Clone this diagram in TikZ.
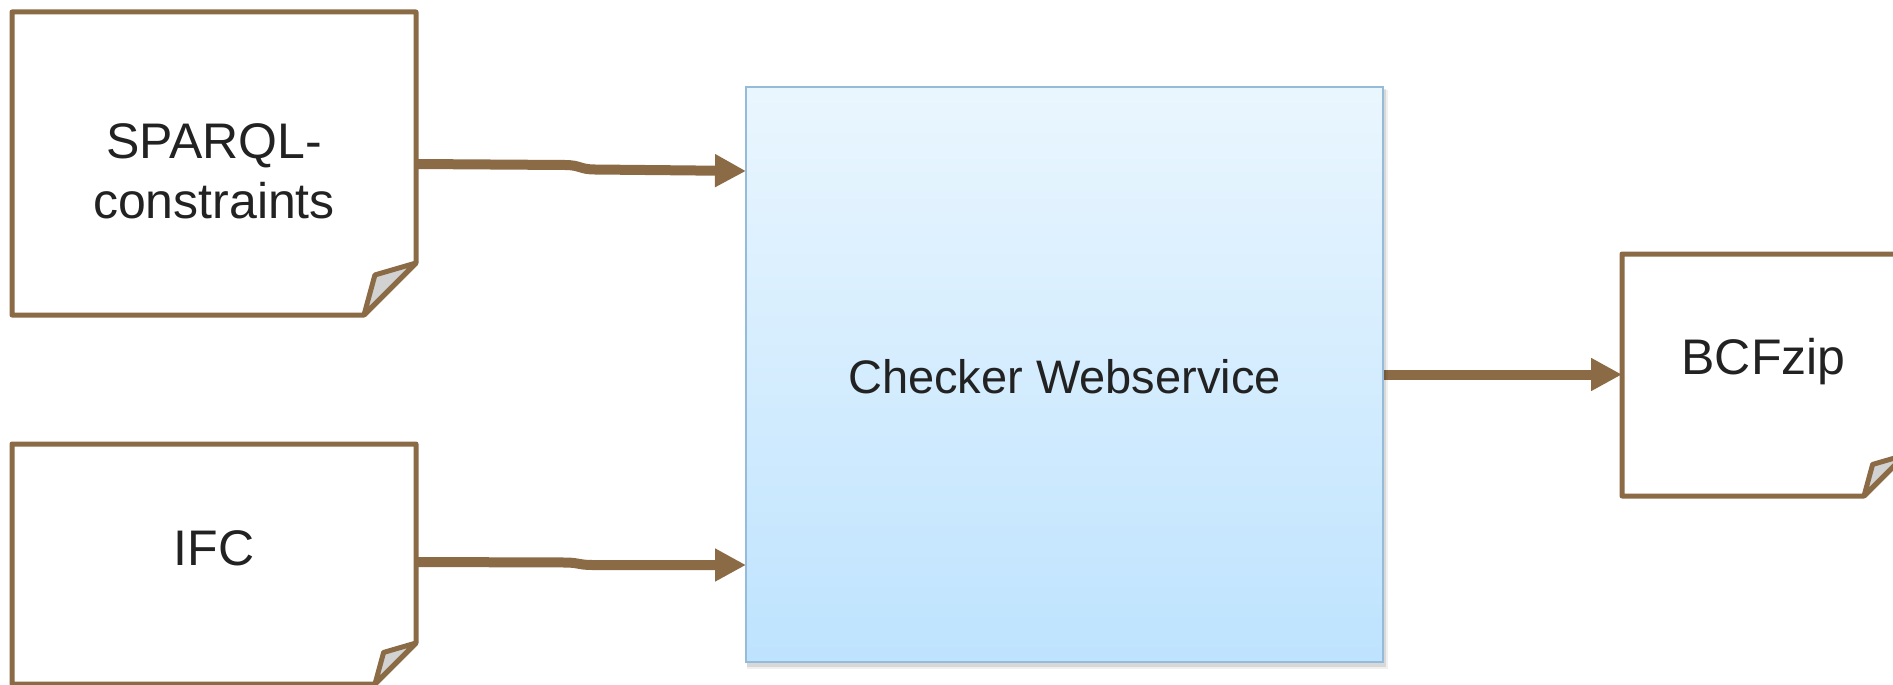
\documentclass[tikz,border=0pt]{standalone}
\usepackage{fontspec}
\setmainfont{Liberation Sans}
\usetikzlibrary{arrows.meta,calc}

\definecolor{docbrown}{HTML}{8B6B46}
\definecolor{flapgray}{HTML}{D2D2D2}
\definecolor{svctop}{HTML}{EAF6FE}
\definecolor{svcbot}{HTML}{BEE3FE}
\definecolor{svcline}{HTML}{96BBD9}
\definecolor{ink}{HTML}{222222}

% document outline with a folded bottom-right corner: #1 node, #2 fold size
\newcommand\docshape[2]{%
  \path[docline] (#1.north west) -- (#1.north east)
    -- ($(#1.south east)+(0,-#2)$) -- ($(#1.south east)+(-#2,0)$)
    -- (#1.south west) -- cycle;
  \path[flap] ($(#1.south east)+(0,-#2)$)
    -- ($(#1.south east)+(-0.79*#2,-0.77*#2)$)
    -- ($(#1.south east)+(-#2,0)$) -- cycle;}

\begin{document}
\begin{tikzpicture}[x=1pt,y=-1pt,
  area/.style={rectangle,draw=none,inner sep=0pt,outer sep=0pt},
  docline/.style={draw=docbrown,line width=5pt,line join=round,fill=white},
  flap/.style={draw=docbrown,line width=5pt,line join=round,fill=flapgray},
  flow/.style={draw=docbrown,line width=10pt,-{Triangle[length=31pt,width=31pt]}},
  lbl/.style={text=ink,font=\fontsize{50}{60}\selectfont,anchor=base,inner sep=0pt},
]
\useasboundingbox (0,0) rectangle (1893,685);
\clip (0,0) rectangle (1893,685);

% shape areas
\node[area,minimum width=404pt,minimum height=303pt] (sparql) at (214,163.5) {};
\node[area,minimum width=404pt,minimum height=240pt] (ifc) at (214,564) {};
\node[area,minimum width=283pt,minimum height=242pt] (bcf) at (1763.5,375) {};
\node[area,minimum width=637pt,minimum height=575pt] (svc) at (1064.5,374.5) {};

% connectors
\coordinate (j1a) at (565,165);
\coordinate (j1b) at (595,169.5);
\coordinate (j2a) at (565,562.5);
\coordinate (j2b) at (592,565);
\draw[flow] ($(sparql.east)+(0,0.5)$) -- (j1a)
  .. controls (580,165) and (580,169.5) .. (j1b)
  -- ($(svc.north west)+(0,84)$);
\draw[flow] ($(ifc.east)+(0,-2)$) -- (j2a)
  .. controls (578,562.5) and (579,565) .. (j2b)
  -- ($(svc.north west)+(0,478)$);
\draw[flow] (svc.east) -- (svc.east -| bcf.west);

% documents
\docshape{sparql}{52}
\docshape{ifc}{41}
\docshape{bcf}{41}

% service box with soft shadow
\fill[black,opacity=0.06] ($(svc.north west)+(1,3)$) rectangle ($(svc.south east)+(5,7)$);
\fill[black,opacity=0.10] ($(svc.north west)+(1,2)$) rectangle ($(svc.south east)+(3,5)$);
\path[top color=svctop,bottom color=svcbot,draw=svcline,line width=2pt]
  (svc.north west) rectangle (svc.south east);

% labels
\node[lbl] (tsparqla) at (214,158) {SPARQL-};
\node[lbl] (tsparqlb) at (214,218) {constraints};
\node[lbl] (tifc) at (214,565) {IFC};
\node[lbl] (tbcf) at (1763.5,374) {BCFzip};
\node[lbl,font=\fontsize{47}{56}\selectfont] (tsvc) at (1064.5,393) {Checker Webservice};
\end{tikzpicture}
\end{document}
